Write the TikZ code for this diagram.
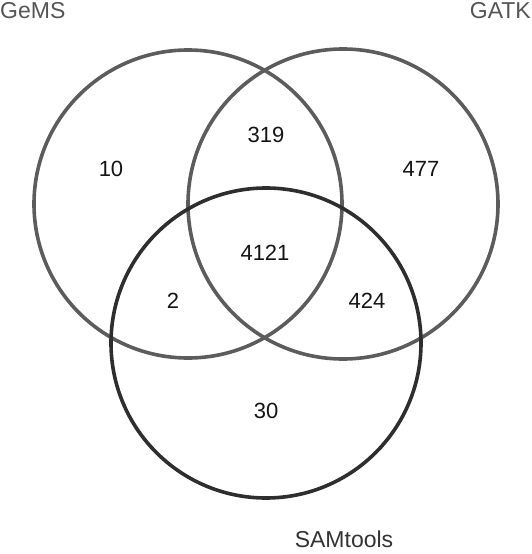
\documentclass[tikz,border=0pt]{standalone}
\usepackage{fontspec}
\setmainfont{Liberation Sans}
\definecolor{ringgray}{HTML}{5C5C5C}
\definecolor{ringdark}{HTML}{2E2E2E}
\definecolor{labgray}{HTML}{555555}
\definecolor{labdark}{HTML}{333333}
\tikzset{
  ring/.style={line width=3.6pt},
  count/.style={font=\fontsize{22}{22}\selectfont, text=black!92, inner sep=0pt},
  setlabel/.style={font=\fontsize{23}{23}\selectfont, inner sep=0pt}
}
\begin{document}
\begin{tikzpicture}[x=1pt,y=-1pt]
\useasboundingbox (0,0) rectangle (531,554);
\draw[ring, ringgray] (188,204) circle (154);
\draw[ring, ringgray] (343,204) circle (155);
\draw[ring, ringdark] (266,343) circle (155);
\node[count] (n10) at (111,169) {10};
\node[count] (n319) at (266,135) {319};
\node[count] (n477) at (421,169) {477};
\node[count] (n4121) at (265,253) {4121};
\node[count] (n2) at (173,301) {2};
\node[count] (n424) at (367,301) {424};
\node[count] (n30) at (266,411) {30};
\node[setlabel, text=labgray, anchor=base west] (gems) at (0,19) {GeMS};
\node[setlabel, text=labgray, anchor=base east] (gatk) at (531,19) {GATK};
\node[setlabel, text=labdark, anchor=base] (sam) at (344,547) {SAMtools};
\end{tikzpicture}
\end{document}
